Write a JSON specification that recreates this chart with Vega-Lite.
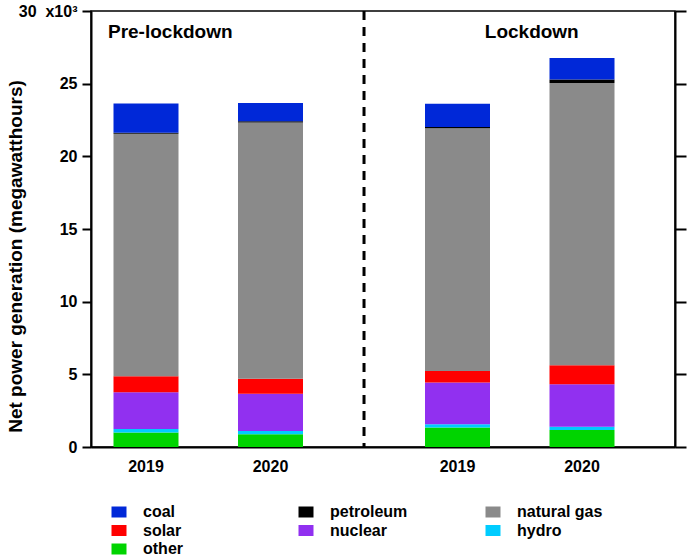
{
  "$schema": "https://vega.github.io/schema/vega-lite/v6.json",
  "width": 584,
  "height": 436,
  "autosize": {"type": "none"},
  "padding": {"left": 91, "top": 11, "right": 13, "bottom": 111},
  "background": "white",
  "config": {
    "font": "Liberation Sans",
    "view": {"stroke": "black", "strokeWidth": 1.5},
    "axis": {"grid": false}
  },
  "datasets": {
    "gen": [
      {"period": "Pre-lockdown", "year": "2019", "source": "other", "value": 1.00, "rank": 1},
      {"period": "Pre-lockdown", "year": "2019", "source": "hydro", "value": 0.24, "rank": 2},
      {"period": "Pre-lockdown", "year": "2019", "source": "nuclear", "value": 2.52, "rank": 3},
      {"period": "Pre-lockdown", "year": "2019", "source": "solar", "value": 1.10, "rank": 4},
      {"period": "Pre-lockdown", "year": "2019", "source": "natural gas", "value": 16.70, "rank": 5},
      {"period": "Pre-lockdown", "year": "2019", "source": "petroleum", "value": 0.07, "rank": 6},
      {"period": "Pre-lockdown", "year": "2019", "source": "coal", "value": 2.00, "rank": 7},
      {"period": "Pre-lockdown", "year": "2020", "source": "other", "value": 0.87, "rank": 1},
      {"period": "Pre-lockdown", "year": "2020", "source": "hydro", "value": 0.23, "rank": 2},
      {"period": "Pre-lockdown", "year": "2020", "source": "nuclear", "value": 2.57, "rank": 3},
      {"period": "Pre-lockdown", "year": "2020", "source": "solar", "value": 1.03, "rank": 4},
      {"period": "Pre-lockdown", "year": "2020", "source": "natural gas", "value": 17.62, "rank": 5},
      {"period": "Pre-lockdown", "year": "2020", "source": "petroleum", "value": 0.09, "rank": 6},
      {"period": "Pre-lockdown", "year": "2020", "source": "coal", "value": 1.26, "rank": 7},
      {"period": "Lockdown", "year": "2019", "source": "other", "value": 1.35, "rank": 1},
      {"period": "Lockdown", "year": "2019", "source": "hydro", "value": 0.21, "rank": 2},
      {"period": "Lockdown", "year": "2019", "source": "nuclear", "value": 2.87, "rank": 3},
      {"period": "Lockdown", "year": "2019", "source": "solar", "value": 0.80, "rank": 4},
      {"period": "Lockdown", "year": "2019", "source": "natural gas", "value": 16.70, "rank": 5},
      {"period": "Lockdown", "year": "2019", "source": "petroleum", "value": 0.08, "rank": 6},
      {"period": "Lockdown", "year": "2019", "source": "coal", "value": 1.60, "rank": 7},
      {"period": "Lockdown", "year": "2020", "source": "other", "value": 1.17, "rank": 1},
      {"period": "Lockdown", "year": "2020", "source": "hydro", "value": 0.23, "rank": 2},
      {"period": "Lockdown", "year": "2020", "source": "nuclear", "value": 2.91, "rank": 3},
      {"period": "Lockdown", "year": "2020", "source": "solar", "value": 1.31, "rank": 4},
      {"period": "Lockdown", "year": "2020", "source": "natural gas", "value": 19.43, "rank": 5},
      {"period": "Lockdown", "year": "2020", "source": "petroleum", "value": 0.23, "rank": 6},
      {"period": "Lockdown", "year": "2020", "source": "coal", "value": 1.49, "rank": 7}
    ],
    "bars": [
      {"period": "Pre-lockdown", "year": "2019"},
      {"period": "Pre-lockdown", "year": "2020"},
      {"period": "Lockdown", "year": "2019"},
      {"period": "Lockdown", "year": "2020"}
    ]
  },
  "resolve": {"axis": {"y": "independent"}},
  "layer": [
    {
      "data": {"name": "gen"},
      "mark": {"type": "bar"},
      "encoding": {
        "x": {
          "field": "period", "type": "nominal", "sort": ["Pre-lockdown", "Lockdown"],
          "scale": {"domain": ["Pre-lockdown", "Lockdown"], "paddingInner": 0.39165, "paddingOuter": 0.133226, "align": 0.2711, "round": false},
          "axis": {"title": null, "labels": false, "ticks": false, "domainColor": "black", "domainWidth": 2}
        },
        "xOffset": {
          "field": "year", "type": "nominal", "sort": ["2019", "2020"],
          "scale": {"domain": ["2019", "2020"], "paddingInner": 0.4779, "paddingOuter": 0, "round": false}
        },
        "y": {
          "field": "value", "type": "quantitative", "stack": "zero",
          "scale": {"domain": [0, 30], "nice": false},
          "axis": {
            "orient": "left",
            "values": [0, 5, 10, 15, 20, 25, 30],
            "labelExpr": "datum.value == 30 ? '30\u00a0\u00a0x10³' : datum.label",
            "title": "Net power generation (megawatthours)",
            "titleFontSize": 19, "titleFontWeight": "bold", "titleColor": "black",
            "titleAngle": -90, "titleX": -76, "titleY": 245, "titleAlign": "center", "titleBaseline": "middle",
            "labelFontSize": 16, "labelFontWeight": "bold", "labelColor": "black", "labelPadding": 5,
            "tickSize": 9, "tickWidth": 2, "tickColor": "black",
            "domainColor": "black", "domainWidth": 2
          }
        },
        "color": {
          "field": "source", "type": "nominal",
          "scale": {
            "domain": ["coal", "petroleum", "natural gas", "solar", "nuclear", "hydro", "other"],
            "range": ["#0028d8", "#000000", "#8a8a8a", "#ff0000", "#9130f0", "#00ccff", "#00d400"]
          },
          "legend": {
            "title": null, "orient": "none", "legendX": 20, "legendY": 493,
            "direction": "horizontal",
            "columns": 3, "gridAlign": "all", "columnPadding": 69, "rowPadding": 2.5,
            "symbolType": "M-1,-0.733H1V0.733H-1Z", "symbolSize": 225, "symbolStrokeWidth": 0, "symbolOpacity": 1,
            "labelFontSize": 16, "labelFontWeight": "bold", "labelColor": "black", "labelOffset": 16, "labelLimit": 300,
            "padding": 0
          }
        },
        "order": {"field": "rank", "type": "quantitative"}
      }
    },
    {
      "data": {"values": [{"boundary": "Pre-lockdown"}]},
      "mark": {"type": "rule", "strokeDash": [9, 7], "strokeWidth": 3, "color": "black"},
      "encoding": {
        "x": {"datum": "Pre-lockdown", "type": "nominal", "bandPosition": 1.322,
              "axis": {"title": null, "labels": false, "ticks": false, "domainColor": "black", "domainWidth": 2}}
      }
    },
    {
      "data": {"name": "bars"},
      "mark": {"type": "text", "fontSize": 16, "fontWeight": "bold", "color": "black", "baseline": "middle", "dy": 20},
      "encoding": {
        "x": {"field": "period", "type": "nominal", "sort": ["Pre-lockdown", "Lockdown"],
              "axis": {"title": null, "labels": false, "ticks": false, "domainColor": "black", "domainWidth": 2}},
        "xOffset": {"field": "year", "type": "nominal", "sort": ["2019", "2020"]},
        "y": {"datum": 0, "type": "quantitative",
              "axis": {"orient": "right", "values": [0, 5, 10, 15, 20, 25, 30], "labels": false, "title": null,
                       "tickSize": 11, "tickWidth": 2, "tickColor": "black", "domainColor": "black", "domainWidth": 2}},
        "text": {"field": "year"}
      }
    },
    {
      "data": {"values": [{"period": "Pre-lockdown"}]},
      "mark": {"type": "text", "fontSize": 19, "fontWeight": "bold", "color": "black", "baseline": "alphabetic", "align": "center", "dx": -38},
      "encoding": {
        "x": {"field": "period", "type": "nominal", "sort": ["Pre-lockdown", "Lockdown"],
              "axis": {"title": null, "labels": false, "ticks": false, "domainColor": "black", "domainWidth": 2}},
        "y": {"datum": 28.15, "type": "quantitative", "axis": null},
        "text": {"field": "period"}
      }
    },
    {
      "data": {"values": [{"period": "Lockdown"}]},
      "mark": {"type": "text", "fontSize": 19, "fontWeight": "bold", "color": "black", "baseline": "alphabetic", "align": "center", "dx": 12},
      "encoding": {
        "x": {"field": "period", "type": "nominal", "sort": ["Pre-lockdown", "Lockdown"],
              "axis": {"title": null, "labels": false, "ticks": false, "domainColor": "black", "domainWidth": 2}},
        "y": {"datum": 28.15, "type": "quantitative", "axis": null},
        "text": {"field": "period"}
      }
    }
  ]
}
